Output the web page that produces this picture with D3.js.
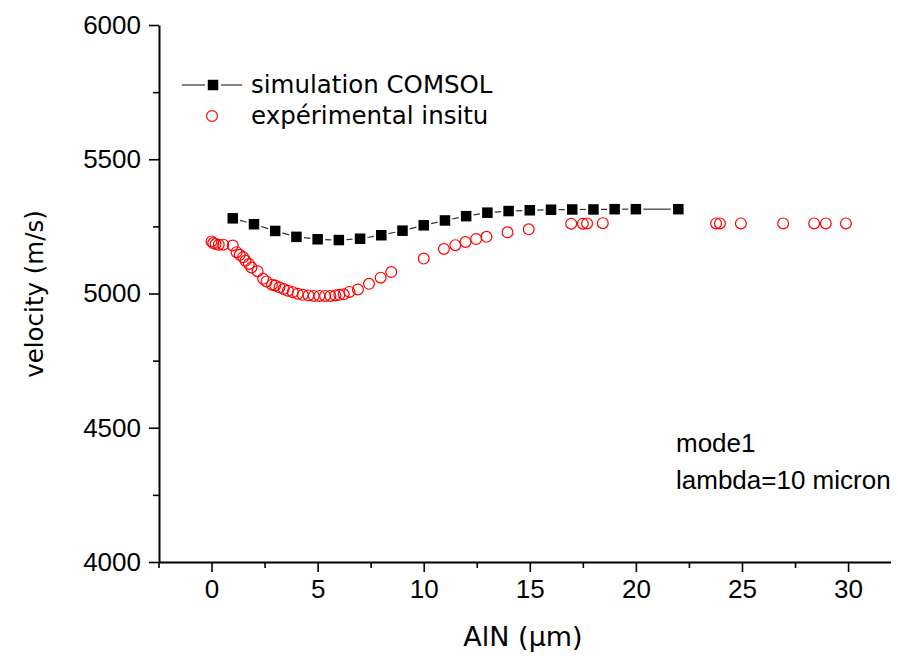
<!DOCTYPE html>
<html><head><meta charset="utf-8">
<script src="https://cdn.jsdelivr.net/npm/d3@7"></script>
<style>body{margin:0;background:#fff}svg{display:block}</style>
</head><body>
<svg id="chart" width="898" height="656"></svg>
<script>
const simX = [1,2,3,4,5,6,7,8,9,10,11,12,13,14,15,16,17,18,19,20,22];
const simY = [5280,5258,5233,5211,5202,5199,5204,5217,5234,5254,5272,5288,5301,5307,5310,5312,5313,5313,5314,5314,5314];
const expX = [0,0.08,0.19,0.34,0.55,1.0,1.18,1.33,1.49,1.6,1.76,1.88,2.17,2.43,2.59,2.85,3.0,3.2,3.4,3.6,3.83,4.06,4.3,4.57,4.82,5.08,5.35,5.6,5.84,6.02,6.23,6.5,6.9,7.42,7.97,8.47,10.0,10.95,11.49,11.97,12.47,12.96,13.95,14.95,16.95,17.5,17.7,18.44,23.78,23.96,24.95,26.94,28.4,28.95,29.9];
const expY = [5194,5188,5184,5182,5182,5179,5154,5144,5135,5122,5110,5097,5083,5055,5045,5033,5030,5023,5017,5010,5005,4999,4995,4993,4991,4991,4991,4991,4993,4995,4997,5006,5015,5036,5059,5080,5130,5166,5180,5192,5203,5211,5228,5239,5260,5260,5261,5262,5261,5261,5261,5261,5261,5261,5261];
const xTicks = [0,5,10,15,20,25,30];
const xMinor = [-2.5,2.5,7.5,12.5,17.5,22.5,27.5];
const yTicks = [4000,4500,5000,5500,6000];
const yMinor = [4250,4750,5250,5750];
const seriesNames = ["simulation COMSOL","expérimental insitu"];
const xTitle = "AlN (µm)";
const yTitle = "velocity (m/s)";
const notes = ["mode1","lambda=10 micron"];

const svg = d3.select("#chart");
const x = d3.scaleLinear().domain([-2.5, 32]).range([158.5, 890.5]);
const y = d3.scaleLinear().domain([4000, 6000]).range([562, 25]);

const tickFont = "'Liberation Sans', Arial, sans-serif";
const textFont = "'DejaVu Sans', Verdana, sans-serif";

// minor ticks
svg.append("g").attr("transform","translate(0,562)")
  .call(d3.axisBottom(x).tickValues(xMinor).tickSize(6).tickFormat("").tickSizeOuter(0))
  .call(g=>g.select(".domain").remove())
  .call(g=>g.selectAll("line").attr("stroke","#000").attr("stroke-width",1.6));
svg.append("g").attr("transform","translate(159,0)")
  .call(d3.axisLeft(y).tickValues(yMinor).tickSize(6).tickFormat("").tickSizeOuter(0))
  .call(g=>g.select(".domain").remove())
  .call(g=>g.selectAll("line").attr("stroke","#000").attr("stroke-width",1.6));

// major axes
const xAxis = svg.append("g").attr("transform","translate(0,562)")
  .call(d3.axisBottom(x).tickValues(xTicks).tickSize(10).tickPadding(8).tickSizeOuter(0).tickFormat(d3.format("d")));
const yAxis = svg.append("g").attr("transform","translate(159,0)")
  .call(d3.axisLeft(y).tickValues(yTicks).tickSize(10).tickPadding(8).tickSizeOuter(0).tickFormat(d3.format("d")));
[xAxis,yAxis].forEach(a=>{
  a.select(".domain").attr("stroke","#000").attr("stroke-width",2);
  a.selectAll(".tick line").attr("stroke","#000").attr("stroke-width",1.6);
  a.selectAll(".tick text").attr("fill","#000").style("font-family",tickFont).style("font-size","26px");
});

// axis titles
svg.append("text").attr("x",523).attr("y",646).attr("text-anchor","middle")
  .style("font-family",textFont).style("font-size","27px").attr("fill","#000").text(xTitle);
svg.append("text").attr("transform","translate(43,294) rotate(-90)").attr("text-anchor","middle")
  .style("font-family",textFont).style("font-size","24.5px").attr("fill","#000").text(yTitle);

// simulation line with gaps around symbols
const gap = 7.5;
const simPts = simX.map((d,i)=>[x(d), y(simY[i])]);
const segs = [];
for (let i=0;i<simPts.length-1;i++){
  const [x1,y1]=simPts[i],[x2,y2]=simPts[i+1];
  const L=Math.hypot(x2-x1,y2-y1), ux=(x2-x1)/L, uy=(y2-y1)/L;
  segs.push([x1+ux*gap,y1+uy*gap,x2-ux*gap,y2-uy*gap]);
}
svg.append("g").selectAll("line").data(segs).join("line")
  .attr("x1",d=>d[0]).attr("y1",d=>d[1]).attr("x2",d=>d[2]).attr("y2",d=>d[3])
  .attr("stroke","#333").attr("stroke-width",1.2);

const sq = 10.5;
svg.append("g").selectAll("rect").data(simX).join("rect")
  .attr("x",(d)=>x(d)-sq/2).attr("y",(d,i)=>y(simY[i])-sq/2)
  .attr("width",sq).attr("height",sq).attr("fill","#000");

svg.append("g").selectAll("circle").data(expX).join("circle")
  .attr("cx",d=>x(d)).attr("cy",(d,i)=>y(expY[i])).attr("r",5.4)
  .attr("fill","none").attr("stroke","#ff0000").attr("stroke-width",1.2);

// legend
const lg = svg.append("g");
lg.append("line").attr("x1",182).attr("x2",205).attr("y1",85).attr("y2",85).attr("stroke","#333").attr("stroke-width",1.2);
lg.append("line").attr("x1",221).attr("x2",242).attr("y1",85).attr("y2",85).attr("stroke","#333").attr("stroke-width",1.2);
lg.append("rect").attr("x",213-sq/2).attr("y",85-sq/2).attr("width",sq).attr("height",sq).attr("fill","#000");
lg.append("circle").attr("cx",212).attr("cy",116).attr("r",5.4).attr("fill","none").attr("stroke","#ff0000").attr("stroke-width",1.2);
lg.selectAll("text").data(seriesNames).join("text")
  .attr("x",251).attr("y",(d,i)=>93+i*31)
  .style("font-family",textFont).style("font-size","24.5px").attr("fill","#000").text(d=>d);

// notes
svg.append("g").selectAll("text").data(notes).join("text")
  .attr("x",676).attr("y",(d,i)=>452+i*37)
  .style("font-family",tickFont).style("font-size","26px").attr("fill","#000").text(d=>d);
</script>
</body></html>
